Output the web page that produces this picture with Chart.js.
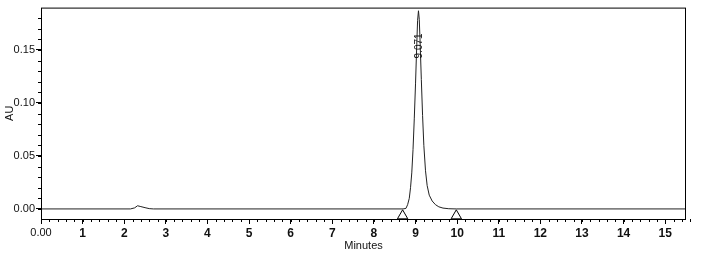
<!DOCTYPE html>
<html>
<head>
<meta charset="utf-8">
<script src="https://cdn.jsdelivr.net/npm/chart.js@4.4.1/dist/chart.umd.min.js"></script>
<style>
  html, body { margin: 0; padding: 0; background: #fff; }
  #wrap { width: 705px; height: 256px; position: relative; }
</style>
</head>
<body>
<div id="wrap"><canvas id="chromChart"></canvas></div>
<script>
// chromatogram trace (minutes, AU)
const times = [0, 2.15, 2.25, 2.32, 2.40, 2.50, 2.60, 2.70, 8.70, 8.77, 8.81, 8.85, 8.88, 8.91, 8.94, 8.97, 9.00, 9.03, 9.05, 9.071,
    9.09, 9.11, 9.14, 9.17, 9.20, 9.24, 9.28, 9.33, 9.40, 9.48, 9.56, 9.66, 9.80, 9.98, 15.5];
const absorbance = [0, 0, 0.0010, 0.0030, 0.0022, 0.0012, 0.0003, 0, 0, 0.0005, 0.0040, 0.0100, 0.0200, 0.0340, 0.0560, 0.0850, 0.1180, 0.1550, 0.1780, 0.1870,
    0.1790, 0.1580, 0.1220, 0.0880, 0.0600, 0.0360, 0.0220, 0.0130, 0.0075, 0.0040, 0.0020, 0.0008, 0.0002, 0, 0];

// integration start / end marks
const eventTimes = [8.69, 9.98];

// peak annotation
const peakTimes = [9.071];
const peakLabels = ['9.071'];

// axes
const xMin = 0, xMax = 15.5;
const yMin = -0.0095, yMax = 0.19;
const markerLevel = -0.0065;

const traceColor = '#222';
const textColor = '#111';

// minor ticks, frame and peak labels
const extrasPlugin = {
    id: 'extras',
    afterDraw(chart) {
        const { ctx, chartArea, scales } = chart;
        const x = scales.x, y = scales.y;
        ctx.save();
        ctx.strokeStyle = '#000';
        ctx.lineWidth = 1;
        ctx.strokeRect(chartArea.left + 0.5, chartArea.top + 0.5,
            chartArea.right - chartArea.left - 1, chartArea.bottom - chartArea.top);

        ctx.beginPath();
        for (let i = 0; i <= Math.round(xMax / 0.2); i++) {
            const px = Math.round(x.getPixelForValue(i * 0.2)) + 0.5;
            ctx.moveTo(px, chartArea.bottom);
            ctx.lineTo(px, chartArea.bottom + 3);
        }
        for (let i = 0; i <= 18; i++) {
            const py = Math.round(y.getPixelForValue(i * 0.01)) + 0.5;
            ctx.moveTo(chartArea.left, py);
            ctx.lineTo(chartArea.left - 3, py);
        }
        ctx.stroke();

        ctx.fillStyle = textColor;
        ctx.font = '10px "Liberation Sans", Arial, sans-serif';
        ctx.textAlign = 'left';
        ctx.textBaseline = 'middle';
        peakTimes.forEach((t, i) => {
            ctx.save();
            ctx.translate(x.getPixelForValue(t) + 1, y.getPixelForValue(0.142));
            ctx.rotate(-Math.PI / 2);
            ctx.fillText(peakLabels[i], 0, 0);
            ctx.restore();
        });
        ctx.restore();
    }
};

function initChart() {
    const ctx = document.getElementById('chromChart').getContext('2d');
    new Chart(ctx, {
        type: 'scatter',
        data: {
            datasets: [
                {
                    data: times.map((t, i) => ({ x: t, y: absorbance[i] })),
                    showLine: true,
                    borderColor: traceColor,
                    borderWidth: 1,
                    pointRadius: 0,
                    tension: 0
                },
                {
                    data: eventTimes.map(t => ({ x: t, y: markerLevel })),
                    pointStyle: 'triangle',
                    pointRadius: 6,
                    backgroundColor: '#fff',
                    borderColor: '#000',
                    borderWidth: 1
                }
            ]
        },
        options: {
            responsive: true,
            maintainAspectRatio: false,
            animation: false,
            layout: { padding: { top: 6, right: 19, left: 0, bottom: 0 } },
            plugins: {
                legend: { display: false },
                tooltip: { enabled: false }
            },
            scales: {
                x: {
                    type: 'linear',
                    min: xMin,
                    max: xMax,
                    afterFit: s => { s.height = 37; },
                    grid: { drawOnChartArea: false, tickLength: 5, color: '#000' },
                    border: { display: false },
                    ticks: {
                        stepSize: 1,
                        includeBounds: false,
                        autoSkip: false,
                        maxRotation: 0,
                        padding: 2,
                        color: textColor,
                        font: c => ({
                            family: '"Liberation Sans", Arial, sans-serif',
                            size: c.tick && c.tick.value === 0 ? 11 : 12,
                            weight: c.tick && c.tick.value === 0 ? 'normal' : 'bold'
                        }),
                        callback: v => v === 0 ? '0.00' : String(v)
                    },
                    title: {
                        display: true,
                        text: 'Minutes',
                        color: textColor,
                        font: { family: '"Liberation Sans", Arial, sans-serif', size: 11 },
                        padding: { top: 0, bottom: 3 }
                    }
                },
                y: {
                    min: yMin,
                    max: yMax,
                    afterFit: s => { s.width = 41; },
                    grid: { drawOnChartArea: false, tickLength: 5, color: '#000' },
                    border: { display: false },
                    ticks: {
                        stepSize: 0.05,
                        includeBounds: false,
                        padding: 1,
                        color: textColor,
                        font: { family: '"Liberation Sans", Arial, sans-serif', size: 11 },
                        callback: v => v.toFixed(2)
                    },
                    title: {
                        display: true,
                        text: 'AU',
                        color: textColor,
                        font: { family: '"Liberation Sans", Arial, sans-serif', size: 11 },
                        padding: { top: 3, bottom: 0 }
                    }
                }
            }
        },
        plugins: [extrasPlugin]
    });
}

document.addEventListener('DOMContentLoaded', initChart);
</script>
</body>
</html>
